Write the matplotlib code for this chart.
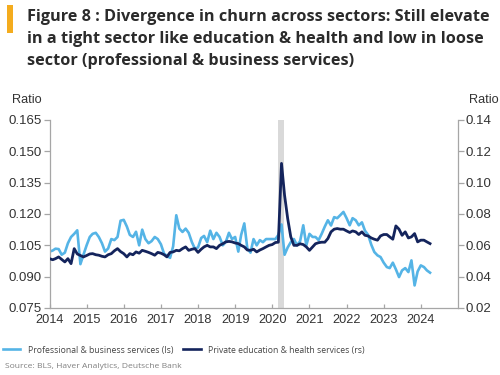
import matplotlib
matplotlib.use("Agg")
import matplotlib.pyplot as plt
from matplotlib.lines import Line2D
from matplotlib.patches import Rectangle
import pandas as pd

# ---------------- data ----------------
start_month = "2014-01-01"
prof_ls = [
    0.102, 0.1025, 0.1034, 0.1032, 0.1005, 0.1015, 0.106, 0.109, 0.1105, 0.1122, 0.096, 0.1005,
    0.105, 0.109, 0.1105, 0.111, 0.109, 0.106, 0.102, 0.1035, 0.108, 0.1075, 0.109, 0.1168,
    0.1172, 0.114, 0.110, 0.109, 0.1115, 0.105, 0.1125, 0.108, 0.106, 0.107, 0.109, 0.108,
    0.1055, 0.101, 0.100, 0.099, 0.1045, 0.1194, 0.113, 0.1114, 0.113, 0.111, 0.1066, 0.1034,
    0.104, 0.1085, 0.1095, 0.1065, 0.112, 0.108, 0.111, 0.109, 0.105, 0.1066, 0.111, 0.108,
    0.109, 0.102, 0.110, 0.1155, 0.1035, 0.1015, 0.108, 0.105, 0.1075, 0.1065, 0.108, 0.108,
    0.108, 0.108, 0.110, 0.115, 0.1005, 0.104, 0.1065, 0.108, 0.105, 0.107, 0.1146, 0.105,
    0.1105, 0.109, 0.109, 0.1075, 0.1105, 0.114, 0.117, 0.1145, 0.1185, 0.118, 0.1195, 0.121,
    0.118, 0.1146, 0.118, 0.117, 0.1146, 0.116, 0.112, 0.110, 0.1053, 0.1018, 0.1002, 0.0994,
    0.0967, 0.0946, 0.0941, 0.0967, 0.0935, 0.0898, 0.093, 0.0941, 0.0922, 0.0978, 0.0858, 0.0925,
    0.0954, 0.0946, 0.093, 0.0919,
]
edu_rs = [
    0.0515, 0.0508, 0.0515, 0.0526, 0.051, 0.0494, 0.0515, 0.0483, 0.0579, 0.0545, 0.0535, 0.0526,
    0.0535, 0.0545, 0.0547, 0.054, 0.0537, 0.053, 0.0526, 0.054, 0.0547, 0.0565, 0.0579, 0.056,
    0.0547, 0.0526, 0.0547, 0.054, 0.0558, 0.055, 0.0568, 0.0562, 0.0555, 0.0547, 0.0537, 0.0555,
    0.055, 0.054, 0.0526, 0.0555, 0.0558, 0.0568, 0.0565, 0.0579, 0.059, 0.0568, 0.0575, 0.0579,
    0.0555, 0.0575, 0.059, 0.060, 0.059, 0.059, 0.0579, 0.060, 0.061, 0.0622, 0.0625, 0.0622,
    0.0615, 0.0611, 0.060, 0.059, 0.057, 0.0568, 0.0575, 0.0558, 0.057, 0.0579, 0.059, 0.060,
    0.0605, 0.0618, 0.062, 0.1123, 0.092, 0.077, 0.0655, 0.060, 0.060, 0.061, 0.0605, 0.059,
    0.0568, 0.059, 0.061, 0.0617, 0.062, 0.062, 0.0643, 0.0686, 0.0703, 0.0707, 0.0703, 0.0703,
    0.0692, 0.0682, 0.0692, 0.0686, 0.0669, 0.0686, 0.0664, 0.066, 0.0647, 0.0639, 0.0633, 0.066,
    0.0669, 0.0669, 0.0654, 0.0639, 0.0724, 0.0703, 0.0664, 0.0686, 0.0647, 0.0654, 0.0675, 0.0622,
    0.0633, 0.0633, 0.0622, 0.0611,
]
recession = ("2020-03-01", "2020-04-30")
left_ticks = [0.075, 0.090, 0.105, 0.120, 0.135, 0.150, 0.165]
right_ticks = [0.02, 0.04, 0.06, 0.08, 0.10, 0.12, 0.14]
year_ticks = list(range(2014, 2025))

title_lines = [
    "Figure 8 : Divergence in churn across sectors: Still elevate",
    "in a tight sector like education & health and low in loose",
    "sector (professional & business services)",
]
legend_labels = ["Professional & business services (ls)",
                 "Private education & health services (rs)"]
source_text = "Source: BLS, Haver Analytics, Deutsche Bank"

# ---------------- style ----------------
light = "#55B4E6"
dark = "#14245C"
spine_col = "#A6A6A6"
txt_col = "#333333"

dates = pd.date_range(start_month, periods=len(prof_ls), freq="MS")

W, H = 500, 375
fig = plt.figure(figsize=(5, 3.75), dpi=100)
fig.patch.set_facecolor("white")

ax = fig.add_axes([49.5 / W, 1 - 308 / H, (458 - 49.5) / W, (308 - 120) / H])
ax2 = ax.twinx()

ax.axvspan(pd.Timestamp(recession[0]), pd.Timestamp(recession[1]), color="#D9D9D9", lw=0, zorder=0)
ax.plot(dates, prof_ls, color=light, lw=1.9, solid_joinstyle="round", zorder=2)
ax2.plot(dates, edu_rs, color=dark, lw=2.0, solid_joinstyle="round", zorder=3)

ax.set_xlim(pd.Timestamp("2014-01-01"), pd.Timestamp("2025-01-01"))
ax.set_ylim(left_ticks[0], left_ticks[-1])
ax2.set_ylim(right_ticks[0], right_ticks[-1])
ax.set_yticks(left_ticks)
ax.set_yticklabels([f"{v:.3f}" for v in left_ticks])
ax2.set_yticks(right_ticks)
ax2.set_yticklabels([f"{v:.2f}" for v in right_ticks])
ax.set_xticks([pd.Timestamp(f"{y}-01-01") for y in year_ticks])
ax.set_xticklabels([str(y) for y in year_ticks])

for a in (ax, ax2):
    a.set_facecolor("none")
    a.spines["top"].set_visible(False)
    for s in ("left", "right", "bottom"):
        a.spines[s].set_color(spine_col)
        a.spines[s].set_linewidth(0.9)
ax.spines["right"].set_visible(False)
ax2.spines["left"].set_visible(False)
ax2.spines["bottom"].set_visible(False)

ax.tick_params(axis="y", direction="out", length=4, width=0.9, color=spine_col,
               labelcolor=txt_col, pad=1.5, labelsize=9.5)
ax2.tick_params(axis="y", direction="out", length=4, width=0.9, color=spine_col,
                labelcolor=txt_col, pad=1.5, labelsize=9.5)
ax.tick_params(axis="x", direction="in", length=3, width=0.9, color=spine_col,
               labelcolor=txt_col, pad=4, labelsize=9.2)
for lab in ax.get_xticklabels() + ax.get_yticklabels() + ax2.get_yticklabels():
    lab.set_family("Liberation Sans")

fig.text(12 / W, 1 - 100 / H, "Ratio", family="Liberation Sans", fontsize=9.2,
         color=txt_col, va="center", ha="left")
fig.text(499 / W, 1 - 100 / H, "Ratio", family="Liberation Sans", fontsize=9.2,
         color=txt_col, va="center", ha="right")

# title
fig.patches.append(Rectangle((7 / W, 1 - 33 / H), 6 / W, 28 / H, transform=fig.transFigure,
                             facecolor="#F4AC1E", edgecolor="none"))
for line, yb in zip(title_lines, [21, 43, 65]):
    fig.text(27 / W, 1 - yb / H, line, family="Open Sans", weight="bold", fontsize=11.7,
             color="#2B2B2B", va="baseline", ha="left")

# legend
handles = [Line2D([], [], color=light, lw=1.9), Line2D([], [], color=dark, lw=1.9)]
leg = fig.legend(handles, legend_labels, loc="center left", bbox_to_anchor=(0.0, 1 - 350 / H),
                 ncol=2, frameon=False, handlelength=2.0, handletextpad=0.9, columnspacing=1.2,
                 borderaxespad=0.0, borderpad=0.3,
                 prop=dict(family="Open Sans", size=6.2))
for t in leg.get_texts():
    t.set_color("#444444")

fig.text(5 / W, 1 - 367 / H, source_text, family="Open Sans", fontsize=6.1,
         color="#808080", va="center", ha="left")

fig.savefig("out.png", dpi=100)
